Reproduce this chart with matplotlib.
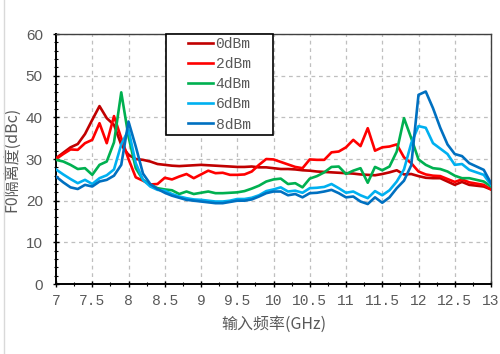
import numpy as np
import matplotlib
matplotlib.use("Agg")
import matplotlib.pyplot as plt
from matplotlib.patches import Rectangle
from matplotlib.lines import Line2D
from matplotlib.ticker import MultipleLocator

# Input frequency sweep, 7-13 GHz in 0.1 GHz steps
freq = np.round(np.arange(7.0, 13.0001, 0.1), 1)

iso_0dbm = [30.2, 31.5, 32.8, 33.6, 36.0, 39.4, 42.7, 39.8, 38.2, 33.4,
            31.0, 30.0, 29.8, 29.4, 28.8, 28.6, 28.4, 28.3, 28.4, 28.5,
            28.6, 28.5, 28.4, 28.3, 28.2, 28.1, 28.1, 28.2, 28.0, 28.0,
            27.8, 27.6, 27.6, 27.5, 27.3, 27.2, 27.0, 26.9, 26.8, 26.7,
            26.6, 26.5, 26.3, 26.2, 26.1, 26.4, 26.8, 27.3, 26.3, 26.4,
            25.9, 25.5, 25.4, 25.4, 24.6, 23.8, 24.5, 23.8, 23.6, 23.4,
            22.7]

iso_2dbm = [30.0, 31.2, 32.3, 32.2, 33.8, 34.6, 38.6, 33.8, 40.3, 35.0,
            30.0, 25.6, 24.8, 23.9, 24.0, 25.5, 25.1, 25.8, 26.4, 25.4,
            26.3, 27.2, 26.6, 26.7, 26.2, 26.2, 26.3, 27.0, 28.6, 30.0,
            29.9, 29.3, 28.7, 28.1, 27.8, 29.9, 29.8, 29.8, 31.6, 31.8,
            32.8, 34.6, 33.1, 37.4, 32.0, 32.8, 33.0, 33.5, 30.4, 29.0,
            27.0, 26.3, 26.0, 25.9, 25.2, 24.5, 25.1, 24.4, 24.1, 23.8,
            22.7]

iso_4dbm = [29.8, 29.4, 28.6, 27.6, 27.8, 26.2, 28.6, 29.4, 34.0, 46.0,
            35.4, 27.8, 25.0, 23.8, 23.0, 22.7, 22.5, 21.6, 22.2, 21.6,
            21.9, 22.2, 21.8, 21.8, 21.9, 22.0, 22.3, 22.9, 23.6, 24.6,
            25.1, 25.3, 24.0, 24.2, 23.2, 25.3, 25.9, 26.8, 28.1, 28.2,
            26.4, 27.2, 27.8, 24.3, 28.1, 27.3, 28.2, 31.8, 39.8, 35.0,
            29.9, 28.6, 27.8, 27.6, 27.0, 26.0, 25.4, 25.4, 25.0, 24.6,
            23.4]

iso_6dbm = [27.5, 26.3, 25.2, 24.2, 25.0, 24.0, 25.4, 26.1, 27.5, 33.5,
            37.0, 29.0, 25.0, 23.4, 22.6, 22.4, 21.6, 21.0, 20.6, 20.3,
            20.2, 20.0, 19.8, 19.8, 20.0, 20.4, 20.4, 20.7, 21.3, 22.3,
            22.7, 23.2, 22.2, 22.4, 21.9, 23.0, 23.1, 23.3, 24.0, 23.0,
            21.9, 22.2, 21.3, 20.6, 22.3, 21.3, 22.5, 24.6, 27.5, 33.8,
            37.9, 37.5, 33.8, 32.5, 31.2, 28.6, 28.8, 27.4, 26.8, 26.2,
            23.8]

iso_8dbm = [25.8, 24.4, 23.2, 22.8, 23.8, 23.4, 24.6, 25.0, 26.0, 28.6,
            39.0, 33.0, 26.5, 24.0, 22.8, 21.9, 21.2, 20.7, 20.2, 20.0,
            19.8, 19.6, 19.4, 19.4, 19.7, 20.0, 20.0, 20.3, 21.0, 21.8,
            22.2, 22.2, 21.3, 21.6, 20.8, 21.8, 21.9, 22.2, 22.6, 21.8,
            20.8, 21.0, 19.8, 19.2, 20.8, 19.5, 20.8, 23.0, 24.8, 28.5,
            45.4, 46.2, 42.2, 37.5, 33.5, 31.2, 30.7, 29.0, 28.2, 27.4,
            24.2]

labels = ["0dBm", "2dBm", "4dBm", "6dBm", "8dBm"]
colors = ["#C00000", "#FF0000", "#00B050", "#00B0F0", "#0070C0"]
series = [iso_0dbm, iso_2dbm, iso_4dbm, iso_6dbm, iso_8dbm]

x_ticks = [7, 7.5, 8, 8.5, 9, 9.5, 10, 10.5, 11, 11.5, 12, 12.5, 13]
x_tick_labels = ["7", "7.5", "8", "8.5", "9", "9.5", "10", "10.5", "11",
                 "11.5", "12", "12.5", "13"]
y_ticks = [0, 10, 20, 30, 40, 50, 60]

text_gray = "#595959"
cjk = ["Noto Sans CJK SC", "DejaVu Sans"]
mono = ["Liberation Mono", "DejaVu Sans Mono"]

fig = plt.figure(figsize=(5.0, 3.54), dpi=100)
ax = fig.add_axes([0.112, 0.1977, 0.870, 0.7062])

for vals, lab, col in zip(series, labels, colors):
    ax.plot(freq, vals, color=col, lw=1.9, label=lab, zorder=3,
            solid_joinstyle="round")

ax.set_xlim(7, 13)
ax.set_ylim(0, 60)
ax.set_xticks(x_ticks)
ax.set_xticklabels(x_tick_labels, family=mono, fontsize=10.5, color=text_gray)
ax.set_yticks(y_ticks)
ax.set_yticklabels([str(v) for v in y_ticks], family=["Liberation Sans"],
                   fontsize=11, color=text_gray)
ax.xaxis.set_minor_locator(MultipleLocator(0.25))
ax.yaxis.set_minor_locator(MultipleLocator(2))
ax.tick_params(which="major", direction="inout", length=5, width=1,
               color="black")
ax.tick_params(which="minor", direction="inout", length=3.5, width=0.8,
               color="black")
ax.tick_params(axis="x", which="major", pad=5)
ax.tick_params(axis="y", which="major", pad=7)

ax.grid(True, which="major", color="#BFBFBF", lw=0.9, ls=(0, (3, 3)))
ax.set_axisbelow(True)

for side in ("left", "bottom"):
    ax.spines[side].set_color("black")
    ax.spines[side].set_linewidth(1.4)
for side in ("top", "right"):
    ax.spines[side].set_color("#404040")
    ax.spines[side].set_linewidth(1.0)

ax.set_xlabel("输入频率(GHz)", family=cjk, fontsize=11.5, color=text_gray,
              labelpad=5)
ax.set_ylabel("F0隔离度(dBc)", family=cjk, fontsize=11.5, color=text_gray,
              labelpad=4)

# Legend box with white fill and square black frame
box = Rectangle((0.2529, 0.596), 0.2460, 0.404, transform=ax.transAxes,
                facecolor="white", edgecolor="black", lw=1.2, zorder=4,
                clip_on=False)
ax.add_patch(box)
leg = ax.legend(loc="upper left", bbox_to_anchor=(0.303, 0.988),
                frameon=False, borderpad=0, borderaxespad=0,
                handlelength=1.7, handletextpad=0.2, labelspacing=0.42,
                prop={"family": mono, "size": 10.5})
leg.set_zorder(5)
for t in leg.get_texts():
    t.set_color(text_gray)

# Light chart-area border on the left edge
fig.add_artist(Line2D([0.007, 0.007], [0, 1], transform=fig.transFigure,
                      color="#D9D9D9", lw=1.0))

fig.savefig("out.png", dpi=100, facecolor="white")
